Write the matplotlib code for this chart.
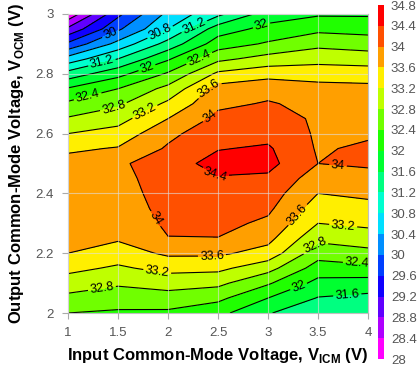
import colorsys
import numpy as np
import matplotlib
matplotlib.use("Agg")
import matplotlib.pyplot as plt
from matplotlib.colors import ListedColormap, BoundaryNorm

plt.rcParams["font.family"] = ["Liberation Sans", "DejaVu Sans"]
plt.rcParams["mathtext.fontset"] = "custom"
plt.rcParams["mathtext.rm"] = "Liberation Sans"
plt.rcParams["mathtext.bf"] = "Liberation Sans:bold"

# grid of the measurement: input CM voltage (x) and output CM voltage (y)
vicm = [1.0, 1.5, 2.0, 2.5, 3.0, 3.5, 4.0]
vocm = [2.00, 2.05, 2.10, 2.15, 2.20, 2.25, 2.30, 2.35, 2.40, 2.45, 2.50,
        2.55, 2.60, 2.65, 2.70, 2.75, 2.80, 2.85, 2.90, 2.95, 3.00]

# values along each VICM column, bottom (VOCM=2) to top (VOCM=3)
col_10 = [32.40, 32.70, 33.01, 33.31, 33.60, 33.72, 33.80, 33.85, 33.88, 33.85, 33.75,
          33.53, 33.20, 32.84, 32.47, 32.04, 31.36, 30.56, 29.68, 28.88, 28.10]
col_15 = [32.35, 32.57, 32.86, 33.14, 33.41, 33.65, 33.75, 33.83, 33.90, 33.95, 33.93,
          33.63, 33.35, 33.05, 32.73, 32.40, 31.87, 31.20, 30.53, 29.93, 29.50]
col_20 = [32.33, 32.63, 32.97, 33.32, 33.67, 33.99, 34.06, 34.10, 34.10, 34.08, 34.22,
          34.05, 33.90, 33.60, 33.28, 32.92, 32.45, 31.95, 31.35, 30.80, 30.50]
col_25 = [32.12, 32.50, 32.90, 33.30, 33.67, 33.99, 34.12, 34.20, 34.28, 34.37, 34.54,
          34.38, 34.25, 34.10, 33.92, 33.75, 33.28, 32.70, 32.20, 31.80, 31.10]
col_30 = [31.62, 32.00, 32.45, 32.95, 33.45, 33.72, 33.92, 34.08, 34.20, 34.33, 34.52,
          34.45, 34.28, 34.15, 34.03, 33.88, 33.45, 32.95, 32.45, 32.12, 31.80]
col_35 = [31.40, 31.58, 31.88, 32.22, 32.57, 32.90, 33.20, 33.40, 33.60, 33.80, 34.00,
          33.96, 33.95, 33.95, 33.90, 33.72, 33.45, 33.05, 32.70, 32.30, 31.95]
col_40 = [31.35, 31.50, 31.82, 32.30, 32.68, 33.02, 33.28, 33.48, 33.68, 33.88, 34.05,
          34.06, 33.95, 33.85, 33.78, 33.70, 33.42, 33.00, 32.62, 32.25, 31.95]

levels = np.round(np.arange(28.0, 34.81, 0.4), 1)
xticks = [1, 1.5, 2, 2.5, 3, 3.5, 4]
yticks = [2, 2.2, 2.4, 2.6, 2.8, 3]

# where the inline contour labels sit
label_pos = [(1.42, 2.936), (1.92, 2.94), (2.27, 2.953), (1.34, 2.836), (1.79, 2.82),
             (2.32, 2.846), (2.94, 2.957), (1.2, 2.72), (1.45, 2.70), (1.75, 2.685),
             (2.39, 2.756), (2.39, 2.67), (2.45, 2.45), (3.7, 2.49), (1.85, 2.31),
             (3.29, 2.33), (2.44, 2.19), (3.75, 2.285), (1.89, 2.134), (3.45, 2.235),
             (3.89, 2.167), (1.34, 2.08), (3.3, 2.094), (3.79, 2.074)]

Z = np.column_stack([col_10, col_15, col_20, col_25, col_30, col_35, col_40])
X, Y = np.meshgrid(vicm, vocm)

colors = [colorsys.hsv_to_rgb((300 - 300 * i / 16) / 360, 1, 1) for i in range(17)]
cmap = ListedColormap(colors)
norm = BoundaryNorm(levels, cmap.N)

fig = plt.figure(figsize=(4.19, 3.67), dpi=100)
ax = fig.add_axes([68 / 419, 54 / 367, 300 / 419, 299 / 367])

cf = ax.contourf(X, Y, Z, levels=levels, cmap=cmap, norm=norm)
cs = ax.contour(X, Y, Z, levels=levels, colors="black", linewidths=0.8)
ax.clabel(cs, fmt=lambda v: f"{v:g}", manual=label_pos, fontsize=9,
          inline=True, inline_spacing=2)

ax.set_xlim(1, 4)
ax.set_ylim(2, 3)
ax.set_xticks(xticks)
ax.set_xticklabels([f"{v:g}" for v in xticks])
ax.set_yticks(yticks)
ax.set_yticklabels([f"{v:g}" for v in yticks])
ax.grid(True, color="#e0e0e0", lw=0.8, alpha=0.6)
ax.set_axisbelow(False)
ax.tick_params(colors="#aaaaaa", labelcolor="#555555", labelsize=9.5, length=4, pad=6)
for s in ax.spines.values():
    s.set_color("#c0c0c0")

ax.set_xlabel(r"Input Common-Mode Voltage, V$_{\mathbf{ICM}}$ (V)",
              fontsize=12, fontweight="bold", labelpad=5)
ax.set_ylabel(r"Output Common-Mode Voltage, V$_{\mathbf{OCM}}$ (V)",
              fontsize=12, fontweight="bold", labelpad=7)

cax = fig.add_axes([378 / 419, 8 / 367, 6 / 419, 354 / 367])
cb = fig.colorbar(cf, cax=cax, ticks=levels)
cb.ax.set_yticklabels([f"{v:g}" for v in levels])
cb.ax.tick_params(length=0, labelcolor="#555555", labelsize=9.5, pad=5)
cb.outline.set_visible(False)

fig.savefig("out.png", dpi=100)
